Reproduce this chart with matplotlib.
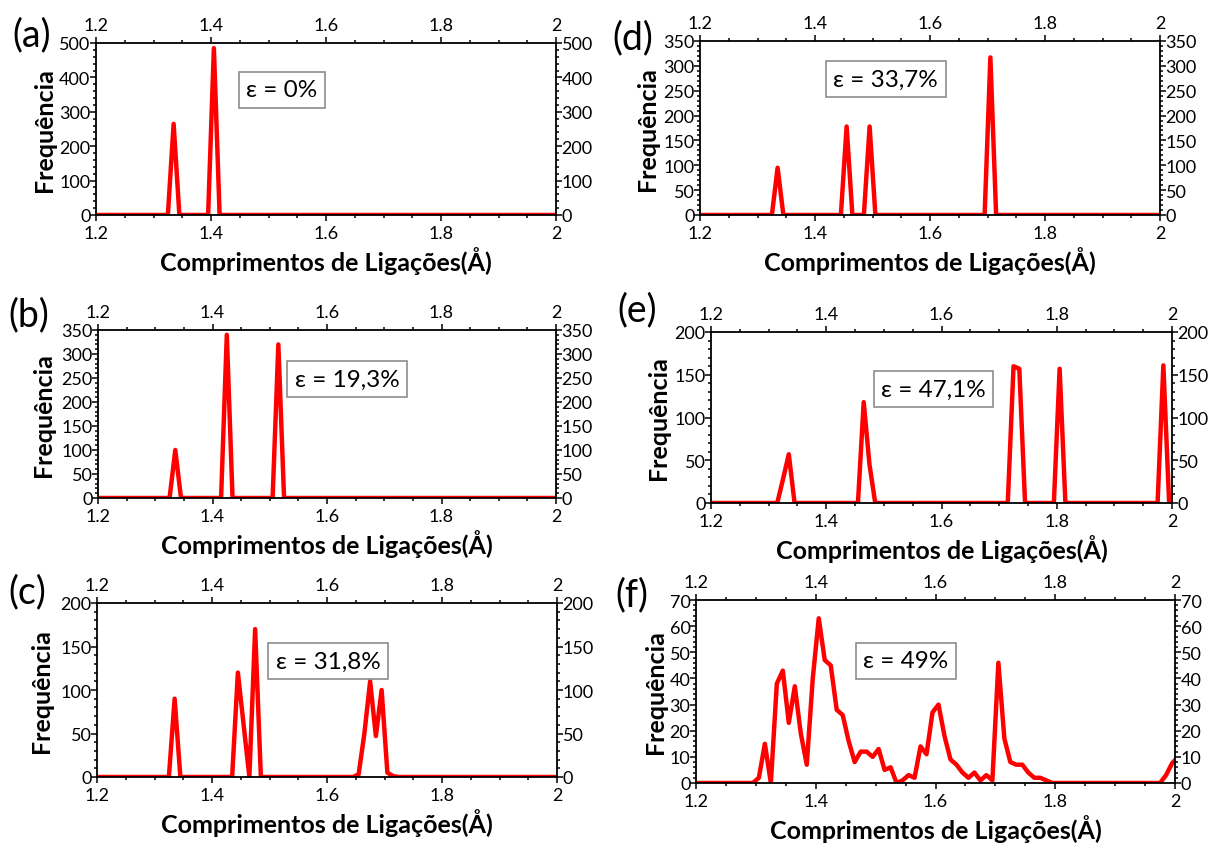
import numpy as np
import matplotlib
matplotlib.use("Agg")
import matplotlib.pyplot as plt
from matplotlib.ticker import AutoMinorLocator, FormatStrFormatter, MultipleLocator

plt.rcParams['font.family'] = ['Lato', 'DejaVu Sans']

# centros dos bins do histograma (passo 0.01 Å)
bins = np.round(np.arange(1.195, 2.0051, 0.01), 3)

# valores não nulos de cada histograma (o resto é zero)
a_x = [1.335, 1.405]
a_y = [265, 485]

b_x = [1.335, 1.425, 1.515]
b_y = [100, 340, 320]

c_x = [1.335, 1.445, 1.455, 1.475, 1.655, 1.665, 1.675, 1.685, 1.695, 1.705, 1.715]
c_y = [90, 120, 60, 170, 3, 50, 110, 47, 100, 5, 1]

d_x = [1.335, 1.455, 1.495, 1.705]
d_y = [95, 178, 178, 317]

e_x = [1.325, 1.335, 1.465, 1.475, 1.725, 1.735, 1.805, 1.985]
e_y = [28, 57, 118, 45, 160, 157, 157, 161]

f_x = [1.305, 1.315, 1.325, 1.335, 1.345, 1.355, 1.365, 1.375, 1.385, 1.395,
       1.405, 1.415, 1.425, 1.435, 1.445, 1.455, 1.465, 1.475, 1.485, 1.495,
       1.505, 1.515, 1.525, 1.535, 1.545, 1.555, 1.565, 1.575, 1.585, 1.595,
       1.605, 1.615, 1.625, 1.635, 1.645, 1.655, 1.665, 1.675, 1.685, 1.695,
       1.705, 1.715, 1.725, 1.735, 1.745, 1.755, 1.765, 1.775, 1.785,
       1.985, 1.995, 2.005]
f_y = [2, 15, 0, 38, 43, 23, 37, 19, 7, 40,
       63, 47, 45, 28, 26, 16, 8, 12, 12, 10,
       13, 5, 6, 0, 1, 3, 2, 14, 11, 27,
       30, 18, 9, 7, 4, 2, 4, 1, 3, 1,
       46, 17, 8, 7, 7, 4, 2, 2, 1,
       3, 7.5, 10]

letras = ['(a)', '(b)', '(c)', '(d)', '(e)', '(f)']
deformacoes = ['ε = 0%', 'ε = 19,3%', 'ε = 31,8%', 'ε = 33,7%', 'ε = 47,1%', 'ε = 49%']
ymax = [500, 350, 200, 350, 200, 70]
ystep = [100, 50, 50, 50, 50, 10]
dados = [(a_x, a_y), (b_x, b_y), (c_x, c_y), (d_x, d_y), (e_x, e_y), (f_x, f_y)]

W, H = 1208, 845
# caixas dos eixos em pixels: x0, x1, y0 (topo), y1 (base)
caixas = [(96, 556, 44, 216), (98, 556, 331, 499), (97, 557, 604, 778),
          (700, 1160, 42, 216), (711, 1172, 333, 504), (696, 1175, 601, 784)]
pos_eps = [(0.404, 0.727), (0.544, 0.708), (0.502, 0.667),
           (0.404, 0.78), (0.483, 0.667), (0.438, 0.667)]
pos_letra = [(32, 35), (29, 315), (27, 592), (633, 38), (637, 310), (632, 595)]
ylab_x = [-0.087, -0.094, -0.096, -0.089, -0.089, -0.06]


def histograma(xs, ys):
    h = np.zeros(len(bins))
    for xv, yv in zip(xs, ys):
        h[np.argmin(np.abs(bins - xv))] = yv
    return h


fig = plt.figure(figsize=(W / 100, H / 100), dpi=100)

for i in range(6):
    x0, x1, y0, y1 = caixas[i]
    ax = fig.add_axes([x0 / W, 1 - y1 / H, (x1 - x0) / W, (y1 - y0) / H])
    ax.plot(bins, histograma(*dados[i]), color='#ff0000', lw=3.2)
    ax.set_xlim(1.2, 2.0)
    ax.set_ylim(0, ymax[i])
    ax.xaxis.set_major_locator(MultipleLocator(0.2))
    ax.xaxis.set_minor_locator(AutoMinorLocator(4))
    ax.xaxis.set_major_formatter(FormatStrFormatter('%g'))
    ax.yaxis.set_major_locator(MultipleLocator(ystep[i]))
    ax.yaxis.set_minor_locator(AutoMinorLocator(5))
    ax.tick_params(which='both', direction='out', top=True, right=True,
                   labeltop=True, labelright=True, labelsize=13,
                   width=1.1, colors='black')
    ax.tick_params(axis='y', pad=0)
    ax.tick_params(axis='x', pad=3.5)
    ax.tick_params(which='major', length=4)
    ax.tick_params(which='minor', length=2.5)
    for s in ax.spines.values():
        s.set_linewidth(1.3)
    ax.set_xlabel('Comprimentos de Ligações(Å)', fontsize=18, fontweight='bold', labelpad=3)
    ax.set_ylabel('Frequência', fontsize=18, fontweight='bold')
    ax.yaxis.set_label_coords(ylab_x[i], 0.5)
    ax.text(pos_eps[i][0], pos_eps[i][1], deformacoes[i], transform=ax.transAxes,
            ha='center', va='center', fontsize=17.5,
            bbox=dict(boxstyle='square,pad=0.3', fc='white', ec='#8c8c8c', lw=1.2))
    fig.text(pos_letra[i][0] / W, 1 - pos_letra[i][1] / H, letras[i],
             ha='center', va='center', fontsize=27)

fig.savefig('out.png', dpi=100)
